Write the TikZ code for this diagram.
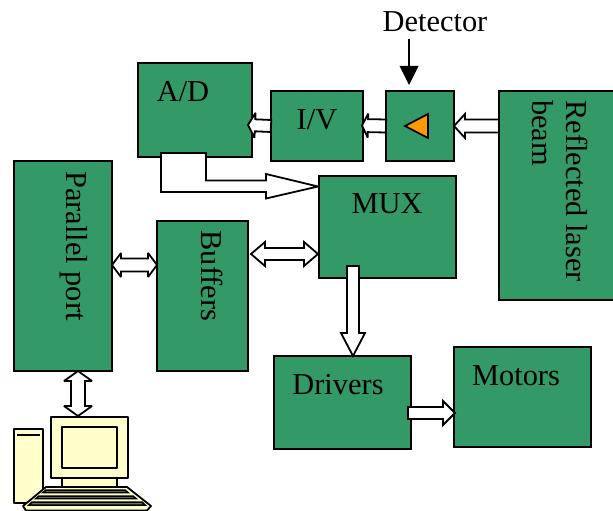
\documentclass[tikz,border=0pt]{standalone}
\usepackage{fontspec}
\setmainfont{Liberation Serif}
\usetikzlibrary{calc}
\definecolor{boxgreen}{RGB}{51,153,102}
\definecolor{pcyellow}{RGB}{255,255,204}
\definecolor{keygrey}{RGB}{110,115,85}
\definecolor{detorange}{RGB}{255,153,0}
\newcommand{\fatarrow}[6][]{% opts, from, to, shaft half, head length, head half
  \coordinate (fa-h) at ($(#3)!#5!(#2)$);
  \draw[fat,#1] ($(#2)!#4!90:(#3)$) -- ($(fa-h)!#4!90:(#3)$) -- ($(fa-h)!#6!90:(#3)$) -- (#3)
    -- ($(fa-h)!#6!-90:(#3)$) -- ($(fa-h)!#4!-90:(#3)$) -- ($(#2)!#4!-90:(#3)$) -- cycle;}
\newcommand{\dblarrow}[6][]{%
  \coordinate (fa-h) at ($(#3)!#5!(#2)$);
  \coordinate (fa-t) at ($(#2)!#5!(#3)$);
  \draw[fat,#1] (#2) -- ($(fa-t)!#6!90:(#3)$) -- ($(fa-t)!#4!90:(#3)$) -- ($(fa-h)!#4!90:(#3)$)
    -- ($(fa-h)!#6!90:(#3)$) -- (#3) -- ($(fa-h)!#6!-90:(#3)$) -- ($(fa-h)!#4!-90:(#3)$)
    -- ($(fa-t)!#4!-90:(#3)$) -- ($(fa-t)!#6!-90:(#3)$) -- cycle;}
\tikzset{
  block/.style={draw=black,fill=boxgreen,line width=1.7pt,inner sep=0pt,outer sep=0pt,anchor=north west},
  lbl/.style={font=\fontsize{30.4}{34}\selectfont,inner sep=0pt,text=black},
  fat/.style={draw=black,fill=white,line width=1.8pt,line join=miter,miter limit=3},
  pc/.style={draw=black,fill=pcyellow,line width=1.8pt,line join=round}
}
\begin{document}
\begin{tikzpicture}[x=1pt,y=-1pt]
\useasboundingbox (0,0) rectangle (613,511);
\clip (0,0) rectangle (613,511);
% boxes
\node[block,minimum width=114pt,minimum height=94pt] (ad) at (138,63) {};
\node[block,minimum width=92pt,minimum height=70pt] (iv) at (271,91) {};
\node[block,minimum width=68pt,minimum height=70pt] (det) at (386,91) {};
\node[block,minimum width=120pt,minimum height=209pt] (beam) at (499,91) {};
\node[block,minimum width=98pt,minimum height=210pt] (port) at (14,161) {};
\node[block,minimum width=91pt,minimum height=150pt] (buf) at (157,221) {};
\node[block,minimum width=137pt,minimum height=102pt] (mux) at (319,176) {};
\node[block,minimum width=137pt,minimum height=93pt] (drv) at (274,356) {};
\node[block,minimum width=137pt,minimum height=100pt] (mot) at (454,347) {};
% labels
\node[lbl] (tad) at (183,91.5) {A/D};
\node[lbl] (tiv) at (317,119.5) {I/V};
\node[lbl] (tmux) at (387,204) {MUX};
\node[lbl] (tdrv) at (338,385) {Drivers};
\node[lbl] (tmot) at (516,375.5) {Motors};
\node[lbl] (tdet) at (435,21.5) {Detector};
\node[lbl,rotate=-90] (tport) at (74,246) {Parallel port};
\node[lbl,rotate=-90] (tbuf) at (212,276) {Buffers};
\node[lbl,rotate=-90,align=left] (tbeam) at (560,191) {Reflected laser\\beam};
% detector symbol
\draw[draw=black,fill=detorange,line width=1.7pt,line join=miter] (428,114) -- (405,126) -- (428,138) -- cycle;
% detector arrow
\coordinate (darrow) at (409,39);
\coordinate (dtip) at (409,85);
\draw[black,line width=1.7pt] (darrow) -- (409,68);
\fill[black] (399.5,66) -- (418.5,66) -- (dtip) -- cycle;
% fat arrows
\coordinate (a1s) at ($(beam.north west)!0.1675!(beam.south west)$);
\fatarrow{a1s}{det.east}{6.5pt}{11pt}{12pt}
\coordinate (a2e) at (362,125.5);
\fatarrow{det.west}{a2e}{6.5pt}{6pt}{12pt}
\coordinate (a3e) at (248,125);
\fatarrow{iv.west}{a3e}{6pt}{7pt}{12.5pt}
% A/D to MUX
\coordinate (muxin) at (318,186.5);
\draw[fat] (161,153) -- (206,153) -- (206,180.5) -- (266,180.5) -- (266,174) -- (muxin) -- (266,198.5) -- (266,192) -- (161,192) -- cycle;
% double arrows
\coordinate (pb1) at (112,265);\coordinate (pb2) at (157,265);
\dblarrow{pb1}{pb2}{6.5pt}{9pt}{12pt}
\coordinate (bm1) at (251,254);\coordinate (bm2) at (318,254);
\dblarrow{bm1}{bm2}{6pt}{14pt}{12pt}
\coordinate (pc1) at (78,371);\coordinate (pc2) at (78,416);
\dblarrow{pc1}{pc2}{7pt}{10pt}{14pt}
% mux to drivers
\coordinate (md1) at (353,266);\coordinate (md2) at (353,356);
\fatarrow{md1}{md2}{6pt}{23pt}{12pt}
% drivers to motors
\coordinate (dm1) at (408,413);\coordinate (dm2) at (455,413);
\fatarrow{dm1}{dm2}{6pt}{12pt}{12pt}
% computer
\draw[pc] (14,429) rectangle (43,503);
\draw[black,line width=2.5pt] (17,435) -- (40,435);
\draw[pc] (62,478) rectangle (117,488);
\draw[pc] (51,417) rectangle (128,478);
\draw[pc] (62,427) rectangle (117,468);
\draw[pc] (46,487) -- (127,487) -- (151,506) -- (147,510.5) -- (26,510.5) -- (23,506) -- cycle;
\draw[black,fill=keygrey,line width=1.5pt] (46,490) -- (125,490) -- (128,492.5) -- (43,492.5) -- cycle;
\draw[black,fill=keygrey,line width=1.5pt] (39,496) -- (133,496) -- (136,498.5) -- (36,498.5) -- cycle;
\draw[black,fill=keygrey,line width=1.5pt] (32,502) -- (142,502) -- (145,505) -- (29,505) -- cycle;
\end{tikzpicture}
\end{document}
